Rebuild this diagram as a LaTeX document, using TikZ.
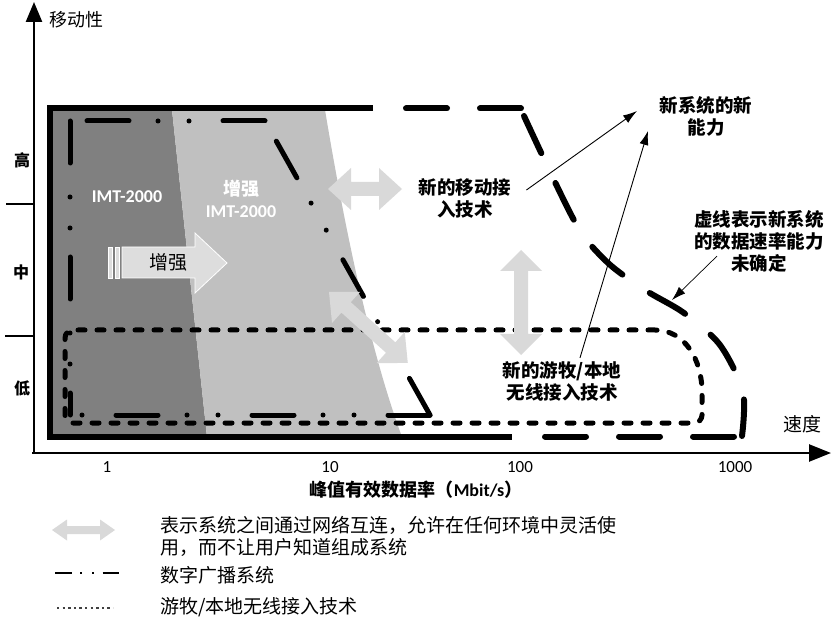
\documentclass[tikz,border=0pt]{standalone}
\usepackage{fontspec}
\setmainfont{Noto Sans CJK SC}
\newfontfamily\calibri{Carlito}
\usetikzlibrary{arrows.meta}
\definecolor{darkreg}{HTML}{808080}
\definecolor{lightreg}{HTML}{C0C0C0}
\definecolor{arrowgray}{HTML}{D9D9D9}
\tikzset{
  frameline/.style = {line width=6pt, line join=miter},
  newsys/.style    = {line width=6pt, line cap=round, dash pattern=on 41pt off 33pt},
  broadcast/.style = {line width=5pt, line cap=round,
                      dash pattern=on 42pt off 34pt on 0pt off 31pt on 0pt off 29pt},
  nomad/.style     = {line width=5pt, line cap=round, dash pattern=on 7pt off 12pt},
  axis/.style      = {line width=2.5pt},
  note/.style      = {font=\fontsize{18.5}{22}\selectfont\bfseries, align=center, inner sep=3pt},
  level/.style     = {font=\fontsize{16}{18}\selectfont\bfseries, inner sep=1pt},
  imt/.style       = {font=\calibri\fontsize{18}{22}\selectfont\bfseries, text=white, align=center},
  tick/.style      = {font=\calibri\fontsize{17}{20}\selectfont},
  legtext/.style   = {font=\fontsize{19}{22}\selectfont, align=left, inner sep=2pt},
  thinarr/.style   = {-{Latex[length=14pt,width=9pt]}, line width=0.9pt},
  pics/dblarr/.style args={#1/#2/#3/#4}{code={
    \fill[arrowgray] (0,0) -- (#2,-#3) -- (#2,-#4) -- (#1-#2,-#4) -- (#1-#2,-#3)
      -- (#1,0) -- (#1-#2,#3) -- (#1-#2,#4) -- (#2,#4) -- (#2,#3) -- cycle;
  }},
}

\begin{document}
\begin{tikzpicture}[x=1pt, y=-1pt]
\fill[white] (0,0) rectangle (836,631);
\useasboundingbox (0,0) rectangle (836,631);
% ---------- shaded regions ----------
\fill[darkreg] (50,110) -- (172,110) -- (207,437) -- (50,437) -- cycle;
\fill[lightreg] (172,110) -- (325,110) .. controls (345,230) and (370,350) .. (402,437)
  -- (207,437) -- cycle;
% ---------- axes ----------
\coordinate (O) at (34,454);
\coordinate (ytop) at (34,2);
\coordinate (xend) at (831,453);
\draw[axis, -{Triangle[length=20pt,width=16pt]}] (O) -- (ytop);
\draw[axis, -{Triangle[length=22pt,width=17pt]}] (32,453) -- (xend);
\draw[line width=2pt] (6,204) -- (34,204);
\draw[line width=2pt] (5,336) -- (34,336);
\node[font=\fontsize{18}{20}\selectfont, anchor=west] (mob) at (46,20) {移动性};
\node[font=\fontsize{19}{21}\selectfont] (spd) at (802,424) {速度};
\node[level] (hi) at (22,160) {高};
\node[level] (mid) at (21,272) {中};
\node[level] (lo) at (22,388) {低};
% ---------- new systems boundary ----------
\draw[frameline] (373,108.5) -- (50,108.5) -- (50,436.5) -- (512,436.5);
\draw[newsys, dash phase=41pt] (373,108.5) -- (522,108.5);
\draw[newsys] plot[smooth, tension=0.5] coordinates
  {(524,116) (575,222) (607,262) (645,290) (684,313) (720,345) (743,392) (742,436)};
\draw[newsys, dash phase=41pt] (512,436.5) -- (742,436.5);
% ---------- digital broadcast ----------
\draw[broadcast] (265,121) -- (70,121);
\draw[broadcast] (70,121) -- (70,415);
\draw[broadcast] (430,415) -- (70,415);
\draw[broadcast] (430,415) -- (265,121);
% ---------- nomadic / local wireless ----------
\draw[nomad, rounded corners=8pt] (655,330) -- (65,330) -- (65,423) -- (702,423) -- (702,400)
  .. controls (702,360) and (685,330) .. (655,330);
% ---------- gray arrows ----------
\pic at (328,189) {dblarr=74/23/21/7};
\pic[rotate=-90] at (521,250) {dblarr=105/21/21/7};
\pic[rotate=-42] at (329,292) {dblarr=106/23/21/7};
\filldraw[fill=arrowgray!90!white, draw=white, line width=0.8pt]
  (122,247) -- (195,247) -- (195,233) -- (227,263) -- (195,293) -- (195,278) -- (122,278) -- cycle;
\filldraw[fill=arrowgray!90!white, draw=white, line width=0.6pt] (108,247) rectangle (112,278);
\filldraw[fill=arrowgray!90!white, draw=white, line width=0.6pt] (115,247) rectangle (119,278);
\node[font=\fontsize{19}{22}\selectfont] (enh) at (168,262) {增强};
% ---------- labels ----------
\node[imt] (imt) at (127,197) {IMT-2000};
\node[imt] (eimt) at (241,199) {{\rmfamily 增强}\\IMT-2000};
\node[note] (mobile) at (465,198) {新的移动接\\入技术};
\node[note] (newcap) at (706,116) {新系统的新\\能力};
\node[note] (unsure) at (759,241) {虚线表示新系统\\的数据速率能力\\未确定};
\node[note] (nomadic) at (562,381) {新的游牧/本地\\无线接入技术};
\coordinate (capTipA) at (637,111);
\coordinate (capTipB) at (648,131);
\coordinate (lineTip) at (672,300);
\draw[thinarr] ([shift={(12pt,8pt)}]mobile.east) -- (capTipA);
\draw[thinarr] ([xshift=18pt]nomadic.north) -- (capTipB);
\draw[thinarr, line width=0.7pt] ([shift={(-42pt,19pt)}]unsure.south) -- (lineTip);
% ---------- x scale ----------
\node[tick] (t1) at (107,467) {1};
\node[tick] (t10) at (330,467) {10};
\node[tick] (t100) at (520,467) {100};
\node[tick] (t1000) at (735,467) {1000};
\node[font=\fontsize{18}{20}\selectfont\bfseries] (xlab) at (416,490)
  {峰值有效数据率（{\calibri Mbit/s}）};
% ---------- legend ----------
\pic at (52,530) {dblarr=63/15/10.5/4};
\draw[line width=2.5pt, dash pattern=on 17pt off 8pt on 1.5pt off 10.5pt on 1.5pt off 9pt]
  (55,573) -- (119,573);
\draw[black!75, line width=2.4pt, dash pattern=on 2.4pt off 3.2pt] (57,608) -- (113,608);
\node[legtext, anchor=west] (legnet) at (158,536)
  {表示系统之间通过网络互连，允许在任何环境中灵活使\\用，而不让用户知道组成系统};
\node[legtext, anchor=west] (legbc) at (158,575) {数字广播系统};
\node[legtext, anchor=west] (legnd) at (158,607) {游牧/本地无线接入技术};
\end{tikzpicture}
\end{document}
